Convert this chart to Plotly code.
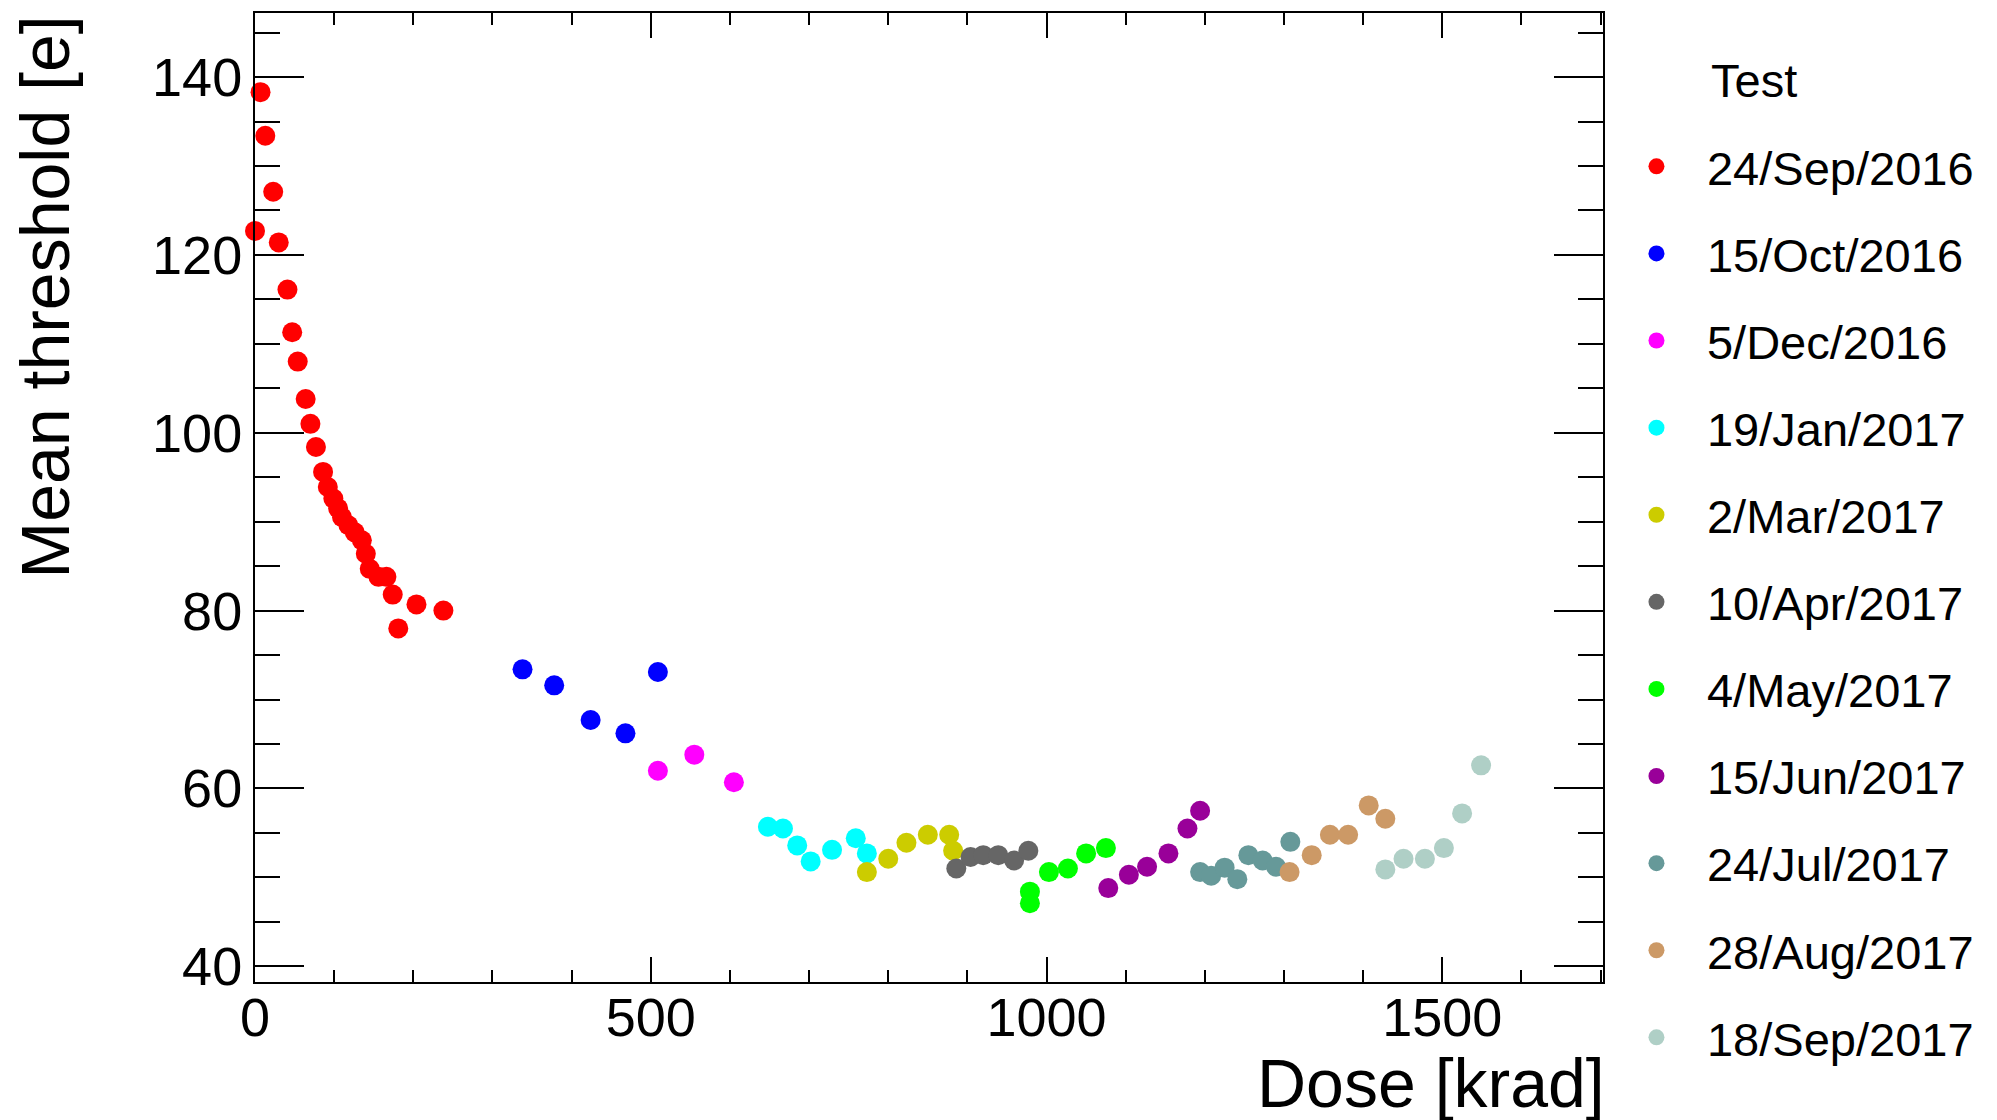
import plotly.graph_objects as go

# ---- data ----
test_dates = ["24/Sep/2016", "15/Oct/2016", "5/Dec/2016", "19/Jan/2017", "2/Mar/2017",
              "10/Apr/2017", "4/May/2017", "15/Jun/2017", "24/Jul/2017", "28/Aug/2017",
              "18/Sep/2017"]
test_colors = ["#ff0000", "#0000ff", "#ff00ff", "#00ffff", "#cccc00", "#666666",
               "#00ff00", "#990099", "#669999", "#cc9966", "#afcfc6"]

dose_sep16 = [0, 7, 13, 23, 30, 41, 47, 54, 64, 70, 77, 86, 92, 99, 105, 110, 118, 126,
              135, 140, 145, 156, 166, 174, 181, 204, 238]
thr_sep16 = [122.7, 138.3, 133.4, 127.1, 121.4, 116.1, 111.3, 108.0, 103.8, 101.0, 98.4,
             95.6, 93.9, 92.6, 91.5, 90.5, 89.6, 88.8, 87.9, 86.4, 84.7, 83.8, 83.8, 81.8,
             78.0, 80.7, 80.0]
dose_oct16 = [338, 378, 424, 468, 509]
thr_oct16 = [73.4, 71.6, 67.7, 66.2, 73.1]
dose_dec16 = [509, 555, 605]
thr_dec16 = [62.0, 63.8, 60.7]
dose_jan17 = [648, 667, 685, 702, 729, 759, 773]
thr_jan17 = [55.7, 55.5, 53.6, 51.8, 53.1, 54.4, 52.7]
dose_mar17 = [773, 800, 823, 850, 877, 882]
thr_mar17 = [50.6, 52.1, 53.9, 54.8, 54.8, 53.0]
dose_apr17 = [886, 904, 920, 939, 959, 977]
thr_apr17 = [51.0, 52.3, 52.5, 52.5, 51.9, 53.0]
dose_may17 = [979, 979, 1003, 1027, 1050, 1075]
thr_may17 = [48.4, 47.1, 50.6, 51.0, 52.7, 53.3]
dose_jun17 = [1078, 1104, 1127, 1154, 1178, 1194]
thr_jun17 = [48.8, 50.3, 51.2, 52.7, 55.5, 57.5]
dose_jul17 = [1194, 1208, 1225, 1241, 1255, 1273, 1290, 1308]
thr_jul17 = [50.6, 50.2, 51.1, 49.8, 52.5, 51.9, 51.2, 54.0]
dose_aug17 = [1307, 1335, 1358, 1381, 1407, 1428]
thr_aug17 = [50.6, 52.5, 54.8, 54.8, 58.1, 56.6]
dose_sep17 = [1428, 1451, 1478, 1502, 1525, 1549]
thr_sep17 = [50.9, 52.1, 52.1, 53.3, 57.2, 62.6]

series = [
    (dose_sep16, thr_sep16), (dose_oct16, thr_oct16), (dose_dec16, thr_dec16),
    (dose_jan17, thr_jan17), (dose_mar17, thr_mar17), (dose_apr17, thr_apr17),
    (dose_may17, thr_may17), (dose_jun17, thr_jun17), (dose_jul17, thr_jul17),
    (dose_aug17, thr_aug17), (dose_sep17, thr_sep17),
]

FONT = "Liberation Sans, Arial, Helvetica, sans-serif"

fig = go.Figure()
for i, ((xs, ys), name, col) in enumerate(zip(series, test_dates, test_colors)):
    fig.add_trace(go.Scatter(
        x=xs, y=ys, mode="markers", name=name, legendgroup=f"g{i}",
        marker=dict(symbol="circle", size=20, color=col, line=dict(width=0)),
        cliponaxis=False,
    ))

axis_common = dict(
    showline=True, linecolor="black", linewidth=2, mirror="ticks",
    ticks="inside", tickcolor="black", tickwidth=2,
    showgrid=False, zeroline=False,
    tickfont=dict(family=FONT, size=54, color="black"),
)

fig.update_xaxes(
    range=[0, 1703], tickmode="linear", tick0=0, dtick=500, ticklen=25,
    ticklabelstandoff=-13,
    minor=dict(ticks="inside", dtick=100, ticklen=12, tickwidth=2, tickcolor="black"),
    **axis_common,
)
fig.update_yaxes(
    range=[38.24, 147.2], tickmode="linear", tick0=40, dtick=20, ticklen=49,
    minor=dict(ticks="inside", dtick=5, ticklen=25, tickwidth=2, tickcolor="black"),
    **axis_common,
)

fig.update_layout(
    width=1997, height=1120, autosize=False,
    margin=dict(l=255, r=394, t=13, b=138, pad=0),
    plot_bgcolor="white", paper_bgcolor="white",
    font=dict(family=FONT, color="black"),
    legend=dict(
        x=1.0022, xanchor="left", y=0.880, yanchor="top",
        font=dict(family=FONT, size=47, color="black"),
        traceorder="grouped", tracegroupgap=23,
        bgcolor="rgba(0,0,0,0)", borderwidth=0, itemwidth=91,
        maxheight=1110,
    ),
    annotations=[
        dict(text="Dose [krad]", xref="paper", yref="paper", x=1.003, y=-0.104,
             xanchor="right", yanchor="middle", showarrow=False,
             font=dict(family=FONT, size=68, color="black")),
        dict(text="Mean threshold [e]", xref="paper", yref="paper", x=-0.1558, y=1.0,
             xanchor="center", yanchor="top", textangle=-90, showarrow=False,
             font=dict(family=FONT, size=68, color="black")),
        dict(text="Test", xref="paper", yref="paper", x=1.0786, y=0.9305,
             xanchor="left", yanchor="middle", showarrow=False,
             font=dict(family=FONT, size=47, color="black")),
    ],
)

fig.write_html("out.html")
